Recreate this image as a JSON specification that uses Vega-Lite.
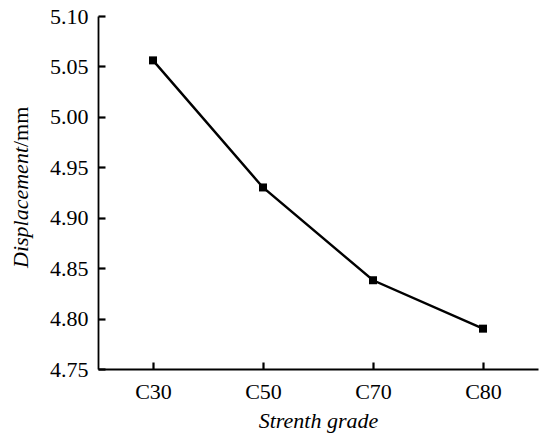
{
  "$schema": "https://vega.github.io/schema/vega-lite/v6.json",
  "width": 440,
  "height": 353,
  "autosize": "none",
  "padding": {"left": 98, "top": 16, "right": 4, "bottom": 66},
  "background": "white",
  "data": {"values": [
    {"grade": "C30", "displacement": 5.056},
    {"grade": "C50", "displacement": 4.930},
    {"grade": "C70", "displacement": 4.838},
    {"grade": "C80", "displacement": 4.790}
  ]},
  "layer": [
    {
      "mark": {"type": "line", "color": "black", "strokeWidth": 2.4},
      "encoding": {
        "x": {"field": "grade", "type": "ordinal", "sort": null,
          "scale": {"type": "point", "padding": 0.5},
          "axis": {"title": "Strenth grade", "labelAngle": 0, "titleFontStyle": "italic", "titlePadding": 8, "labelPadding": 19,
            "orient": "bottom", "domain": true, "ticks": true, "tickSize": -7, "tickColor": "black", "tickWidth": 2.2}},
        "y": {"field": "displacement", "type": "quantitative",
          "scale": {"domain": [4.75, 5.10], "nice": false, "zero": false},
          "axis": {"title": "Displacement", "titleFontStyle": "italic", "values": [4.75, 4.8, 4.85, 4.9, 4.95, 5.0, 5.05, 5.1], "format": ".2f",
            "titleAngle": 270, "titleAlign": "right", "titleBaseline": "alphabetic", "titleX": -71, "titleY": 130.5, "orient": "left",
            "domain": true, "labelPadding": 17, "ticks": true, "tickSize": -7, "tickColor": "black", "tickWidth": 2.2}}
      }
    },
    {
      "mark": {"type": "point", "shape": "square", "filled": true, "color": "black", "opacity": 1, "size": 64},
      "encoding": {
        "x": {"field": "grade", "type": "ordinal", "sort": null,
          "scale": {"type": "point", "padding": 0.5}},
        "y": {"field": "displacement", "type": "quantitative",
          "scale": {"domain": [4.75, 5.10], "nice": false, "zero": false},
          "axis": {"title": "/mm", "orient": "left", "labels": false, "ticks": false, "domain": false, "grid": false,
            "titleAngle": 270, "titleAlign": "left", "titleBaseline": "alphabetic", "titleX": -71, "titleY": 130.5, "titleFontStyle": "normal"}}
      }
    }
  ],
  "resolve": {"axis": {"y": "independent"}},
  "config": {
    "view": {"stroke": null},
    "font": "Liberation Serif",
    "axis": {
      "grid": false,
      "domainColor": "black",
      "domainWidth": 1.8,
      "labelFont": "Liberation Serif",
      "labelFontSize": 22,
      "labelColor": "black",
      "titleFont": "Liberation Serif",
      "titleFontSize": 22,
      "titleFontWeight": "normal",
      "titleColor": "black"
    }
  }
}
